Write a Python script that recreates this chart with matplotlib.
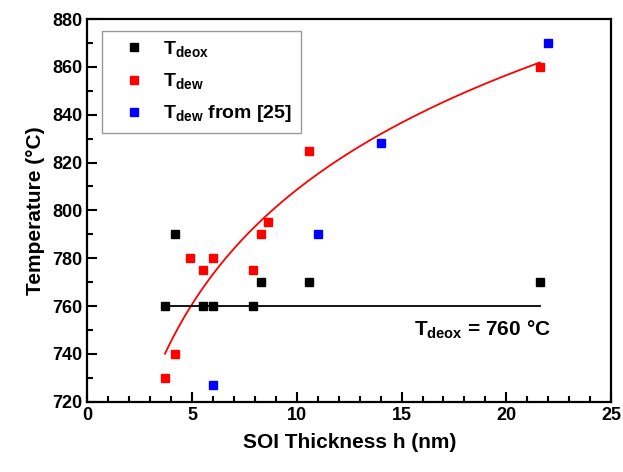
import numpy as np
import matplotlib
matplotlib.use("Agg")
import matplotlib.pyplot as plt
from matplotlib.ticker import MultipleLocator

plt.rcParams['font.family'] = ['Liberation Sans', 'DejaVu Sans']
plt.rcParams['font.weight'] = 'bold'
plt.rcParams['mathtext.fontset'] = 'custom'
plt.rcParams['mathtext.rm'] = 'Liberation Sans:bold'
plt.rcParams['mathtext.bf'] = 'Liberation Sans:bold'
plt.rcParams['mathtext.it'] = 'Liberation Sans:bold'

# valori
h_deox = [3.7, 4.2, 5.5, 6.0, 7.9, 8.3, 10.6, 21.6]
t_deox = [760, 790, 760, 760, 760, 770, 770, 770]

h_dew = [3.7, 4.2, 4.9, 5.5, 6.0, 7.9, 8.3, 8.6, 10.6, 21.6]
t_dew = [730, 740, 780, 775, 780, 775, 790, 795, 825, 860]

h_ref = [6.0, 11.0, 14.0, 22.0]
t_ref = [727, 790, 828, 870]

t_deox_media = 760

fig = plt.figure(figsize=(6.23, 4.72), dpi=100)
ax = fig.add_axes([0.1404, 0.149, 0.8403, 0.8107])

# fit logaritmico dei punti T_dew
b, a = np.polyfit(np.log(h_dew), t_dew, 1)
xf = np.linspace(min(h_dew), max(h_dew), 200)
ax.plot(xf, a + b * np.log(xf), color='#ff0000', linewidth=1.3, zorder=2)

ax.plot([min(h_deox), max(h_deox)], [t_deox_media, t_deox_media], color='black', linewidth=1.3, zorder=2)

ax.plot(h_deox, t_deox, 's', color='black', markersize=6, linestyle='none', label=r'$\mathrm{T_{deox}}$', zorder=3)
ax.plot(h_dew, t_dew, 's', color='#ff0000', markersize=6, linestyle='none', label=r'$\mathrm{T_{dew}}$', zorder=3)
ax.plot(h_ref, t_ref, 's', color='#0000ff', markersize=6, linestyle='none', label=r'$\mathrm{T_{dew}}$ from [25]', zorder=3)

ax.text(15.6, 750, r'$\mathrm{T_{deox}}$ = 760 °C', fontsize=15, fontweight='bold', va='center', ha='left')

ax.set_xlim(0, 25)
ax.set_ylim(720, 880)
ax.xaxis.set_major_locator(MultipleLocator(5))
ax.xaxis.set_minor_locator(MultipleLocator(1))
ax.yaxis.set_major_locator(MultipleLocator(20))
ax.yaxis.set_minor_locator(MultipleLocator(10))
ax.tick_params(which='both', direction='in', top=False, right=False, labelsize=13, width=1.5)
ax.tick_params(which='major', length=7)
ax.tick_params(which='minor', length=4)
for s in ax.spines.values():
    s.set_linewidth(1.6)

ax.set_xlabel('SOI Thickness h (nm)', fontsize=15, fontweight='bold', labelpad=7)
ax.set_ylabel('Temperature (°C)', fontsize=15, fontweight='bold', labelpad=5)

leg = ax.legend(loc='upper left', bbox_to_anchor=(0.028, 0.97), fontsize=14, frameon=True, fancybox=False,
                edgecolor='gray', handlelength=2.4, handletextpad=0.3, borderpad=0.45, labelspacing=0.62,
                borderaxespad=0, markerscale=0.9)
leg.get_frame().set_linewidth(1.0)

fig.savefig('out.png', dpi=100)
